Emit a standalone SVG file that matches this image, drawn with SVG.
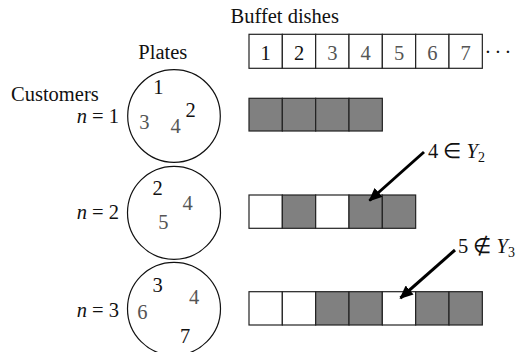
<svg xmlns="http://www.w3.org/2000/svg" width="517" height="352" viewBox="0 0 517 352">
<style>
text{font-family:"Liberation Serif","Times New Roman",serif;font-size:20.5px;fill:#111}
.d{text-anchor:middle}
.g{fill:#555}
.b{stroke:#222;stroke-width:1.2}
.w{fill:#fff}
.s{fill:#808080}
.c{fill:none;stroke:#111;stroke-width:1.2}
.i{font-style:italic}
.arrow{stroke:#000;stroke-width:3;fill:none;marker-end:url(#ah)}
</style>
<defs>
<marker id="ah" viewBox="0 0 10 10" refX="9" refY="5" markerWidth="4.5" markerHeight="4" markerUnits="strokeWidth" orient="auto" preserveAspectRatio="none">
<path d="M0,0 L10,5 L0,10 Z" fill="#000"/>
</marker>
</defs>
<rect width="517" height="352" fill="#fff"/>
<g id="labels">
<text x="230.5" y="22.7">Buffet dishes</text>
<text x="138.3" y="59.3">Plates</text>
<text x="11" y="101.3">Customers</text>
</g>
<g id="dishes">
<g class="b w">
<rect x="249" y="34.3" width="33.33" height="34"/>
<rect x="282.33" y="34.3" width="33.33" height="34"/>
<rect x="315.67" y="34.3" width="33.33" height="34"/>
<rect x="349" y="34.3" width="33.33" height="34"/>
<rect x="382.33" y="34.3" width="33.33" height="34"/>
<rect x="415.67" y="34.3" width="33.33" height="34"/>
<rect x="449" y="34.3" width="33.33" height="34"/>
</g>
<text class="d" x="265.7" y="60">1</text>
<text class="d" x="299" y="60">2</text>
<text class="d g" x="332.3" y="60">3</text>
<text class="d g" x="365.7" y="60">4</text>
<text class="d g" x="399" y="60">5</text>
<text class="d g" x="432.3" y="60">6</text>
<text class="d g" x="465.7" y="60">7</text>
<text x="484.5 494.5 504.5" y="59">···</text>
</g>
<g id="customer1">
<text x="119" y="123" text-anchor="end"><tspan class="i">n</tspan> = 1</text>
<circle class="c" cx="174" cy="116" r="46.3"/>
<text class="d" x="158.3" y="94.3">1</text>
<text class="d" x="190.7" y="116.7">2</text>
<text class="d g" x="144.3" y="129">3</text>
<text class="d g" x="175.7" y="133.3">4</text>
</g>
<g id="customer2">
<text x="119" y="219.3" text-anchor="end"><tspan class="i">n</tspan> = 2</text>
<circle class="c" cx="174" cy="212.8" r="46.5"/>
<text class="d" x="157.7" y="195">2</text>
<text class="d g" x="187.7" y="210">4</text>
<text class="d g" x="163.3" y="229.3">5</text>
</g>
<g id="customer3">
<text x="119" y="316.7" text-anchor="end"><tspan class="i">n</tspan> = 3</text>
<circle class="c" cx="174" cy="308.8" r="46.5"/>
<text class="d" x="157.7" y="291.7">3</text>
<text class="d g" x="194" y="304.3">4</text>
<text class="d g" x="142.3" y="319.3">6</text>
<text class="d" x="185" y="342.7">7</text>
</g>
<g id="row1" class="b">
<rect class="s" x="249" y="98.3" width="33.33" height="32.7"/>
<rect class="s" x="282.33" y="98.3" width="33.33" height="32.7"/>
<rect class="s" x="315.67" y="98.3" width="33.33" height="32.7"/>
<rect class="s" x="349" y="98.3" width="33.33" height="32.7"/>
</g>
<g id="row2" class="b">
<rect class="w" x="249" y="195" width="33.33" height="33.3"/>
<rect class="s" x="282.33" y="195" width="33.33" height="33.3"/>
<rect class="w" x="315.67" y="195" width="33.33" height="33.3"/>
<rect class="s" x="349" y="195" width="33.33" height="33.3"/>
<rect class="s" x="382.33" y="195" width="33.33" height="33.3"/>
</g>
<g id="row3" class="b">
<rect class="w" x="249" y="291.7" width="33.33" height="33.3"/>
<rect class="w" x="282.33" y="291.7" width="33.33" height="33.3"/>
<rect class="s" x="315.67" y="291.7" width="33.33" height="33.3"/>
<rect class="s" x="349" y="291.7" width="33.33" height="33.3"/>
<rect class="w" x="382.33" y="291.7" width="33.33" height="33.3"/>
<rect class="s" x="415.67" y="291.7" width="33.33" height="33.3"/>
<rect class="s" x="449" y="291.7" width="33.33" height="33.3"/>
</g>
<g id="connectors">
<line class="arrow" x1="424" y1="152" x2="369.5" y2="200.5"/>
<line class="arrow" x1="455" y1="250" x2="400.5" y2="298"/>
</g>
<g id="annotations">
<text x="428" y="158">4 ∈ <tspan class="i">Y</tspan><tspan font-size="14" dy="4">2</tspan></text>
<text x="458" y="253">5 ∉ <tspan class="i">Y</tspan><tspan font-size="14" dy="4">3</tspan></text>
</g>
</svg>
